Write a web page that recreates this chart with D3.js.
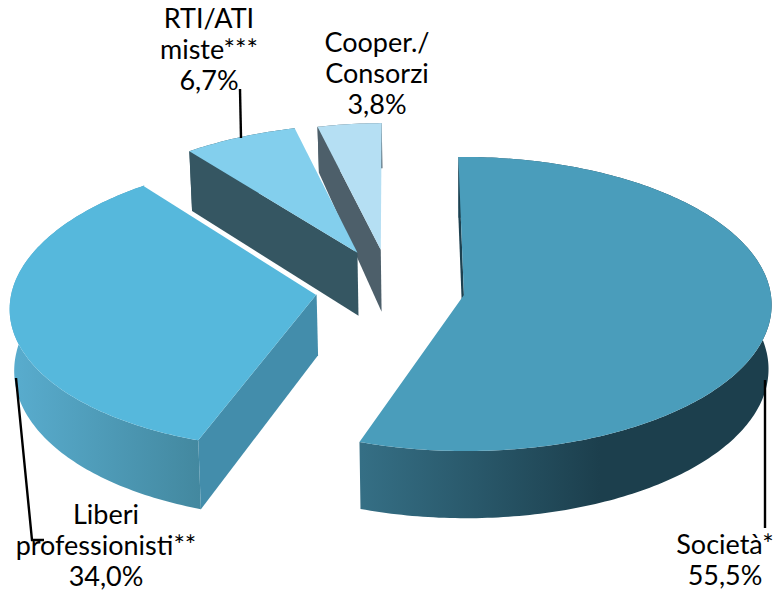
<!DOCTYPE html>
<html><head><meta charset="utf-8">
<script src="https://cdn.jsdelivr.net/npm/d3@7/dist/d3.min.js"></script>
<style>html,body{margin:0;background:#fff}svg{display:block}text{font-family:"Lato",sans-serif;font-size:27px;fill:#000;text-anchor:middle}</style>
</head><body><script>
const categories = ["Società*", "Liberi professionisti**", "RTI/ATI miste***", "Cooper./Consorzi"];
const values = [55.5, 34.0, 6.7, 3.8];
const faceColors = ["#4a9dbb", "#56b8dc", "#83cfed", "#b5dff3"];
const edgeColors = ["#1d4150", "#438dab", "#355662", "#4d5f6a"];
const rimFrom = ["#356f85", "#59adcf", "#355662", "#4d5f6a"];
const rimTo = ["#1c3f4d", "#43889f", "#355662", "#4d5f6a"];
// exploded-slice styling, in pie-plane units
const explodeX = [0.003, -0.477, -0.35, -0.273];
const explodeV = [0, -0.005, -0.293, -0.314];
const shear = [-0.006, 0.012, 0, 0];
const radiusScale = [1, 0.995, 0.96, 0.95];
const wallDepth = [64, 61, 63, 62];
const wallTaper = [0.05, 0.135, 0.065, 0.27];
const labelLines = [["Società*", "55,5%"], ["Liberi", "professionisti**", "34,0%"], ["RTI/ATI", "miste***", "6,7%"], ["Cooper./", "Consorzi", "3,8%"]];
const labelX = [725, 106, 209, 377];
const labelY = [554, 524, 28, 52];
const lineH = 31;
const leaders = [[[765, 380], [765, 528]], [[16, 378], [32, 540], [44, 540]], [[240, 89], [241, 138]]];

const W = 773, H = 592, persp = 0.061, rotation = -0.013, floorScale = 0.99;
const sx = d3.scaleLinear().domain([-1, 1]).range([463 - 307, 463 + 307]);
const sy = d3.scaleLinear().domain([-1, 1]).range([295 - 146.5, 295 + 146.5]);
const svg = d3.select("body").append("svg").attr("width", W).attr("height", H);
const defs = svg.append("defs");
const pie = d3.pie().sort(null).startAngle(rotation).endAngle(2 * Math.PI + rotation);
const arcs = pie(values);
const lineGen = d3.line();

function project(i, a, r) {
  const rr = r * radiusScale[i];
  const v = -rr * Math.cos(a);
  const X = explodeX[i] + rr * Math.sin(a) - shear[i] * v, V = explodeV[i] + v, w = 1 - persp * V;
  return [sx(X / w), sy(V / w)];
}
function drop(i, a, r) {
  const p = project(i, a, r);
  const v = -r * Math.cos(a);
  return [sx(0) + (p[0] - sx(0)) * floorScale, p[1] + wallDepth[i] * (1 + wallTaper[i] * v)];
}
function sampleAngles(d) {
  const n = Math.max(8, Math.ceil((d.endAngle - d.startAngle) * 60));
  return d3.range(n + 1).map(k => d.startAngle + (d.endAngle - d.startAngle) * k / n);
}
const gradX1 = [361, 10, 190, 318];
const gradX2 = [600, 200, 300, 383];

// draw order: back slices first
[3, 2, 1, 0].forEach(i => {
  const d = arcs[i], as = sampleAngles(d);
  const rim = as.map(a => project(i, a, 1));
  const rimLow = as.map(a => drop(i, a, 1)).reverse();
  const gid = "rim" + i;
  const g = defs.append("linearGradient").attr("id", gid).attr("gradientUnits", "userSpaceOnUse")
    .attr("x1", gradX1[i]).attr("x2", gradX2[i]).attr("y1", 0).attr("y2", 0);
  g.append("stop").attr("offset", 0).attr("stop-color", rimFrom[i]);
  g.append("stop").attr("offset", 1).attr("stop-color", rimTo[i]);
  // outer wall
  svg.append("path").attr("d", lineGen(rim.concat(rimLow)) + "Z").attr("fill", `url(#${gid})`);
  // radial wall at the slice's starting edge
  const s = d.startAngle;
  svg.append("path").attr("d", lineGen([project(i, s, 0), project(i, s, 1), drop(i, s, 1), drop(i, s, 0)]) + "Z").attr("fill", edgeColors[i]);
  // top face
  svg.append("path").attr("d", lineGen([project(i, s, 0)].concat(rim)) + "Z").attr("fill", faceColors[i]);
  if (i === 1) {
    svg.append("path").attr("d", lineGen([project(i, d.endAngle, 0), project(i, d.endAngle, 1)]))
      .attr("stroke", "#fff").attr("stroke-width", 1.5).attr("fill", "none");
  }
});

leaders.forEach(pts => svg.append("path").attr("d", lineGen(pts)).attr("fill", "none").attr("stroke", "#000").attr("stroke-width", 2.4));

labelLines.forEach((lines, i) => {
  const t = svg.append("text").attr("x", labelX[i]).attr("y", labelY[i]);
  lines.forEach((s, k) => t.append("tspan").attr("x", labelX[i]).attr("dy", k ? lineH : 0).text(s));
});
</script></body></html>
